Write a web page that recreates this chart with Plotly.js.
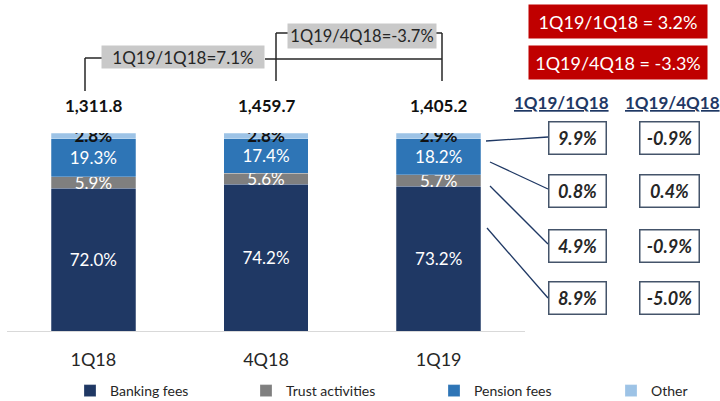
<!DOCTYPE html>
<html>
<head>
<meta charset="utf-8">
<script src="https://cdn.plot.ly/plotly-3.0.1.min.js"></script>
<style>html,body{margin:0;padding:0;background:#fff;}#chart{width:720px;height:401px;}</style>
</head>
<body>
<div id="chart"></div>
<script>
// ---- data ----
var quarters = ['1Q18', '4Q18', '1Q19'];
var bankingFees = [72.0, 74.2, 73.2];
var trustActivities = [5.9, 5.6, 5.7];
var pensionFees = [19.3, 17.4, 18.2];
var other = [2.8, 2.8, 2.9];
var totals = ['1,311.8', '1,459.7', '1,405.2'];
var totalChangeLabels = ['1Q19/1Q18=7.1%', '1Q19/4Q18=-3.7%'];
var redBoxLabels = ['1Q19/1Q18 = 3.2%', '1Q19/4Q18 = -3.3%'];
var changeHeaders = ['1Q19/1Q18', '1Q19/4Q18'];
// rows: Other, Pension fees, Trust activities, Banking fees
var yoyChange = ['9.9%', '0.8%', '4.9%', '8.9%'];
var qoqChange = ['-0.9%', '0.4%', '-0.9%', '-5.0%'];

// ---- layout helpers (pixel -> paper) ----
var W = 720, H = 401;
var M = {l: 7, r: 195, t: 133, b: 70, autoexpand: false};
var PW = W - M.l - M.r, PH = H - M.t - M.b;
function px(x) { return (x - M.l) / PW; }
function py(y) { return (H - M.b - y) / PH; }

var FONT = 'Lato, "Open Sans", sans-serif';
function pct(arr) { return arr.map(function (v) { return v.toFixed(1) + '%'; }); }

function barTrace(name, vals, color, txtColor, weight, legendId) {
  return {
    type: 'bar', name: name, x: quarters, y: vals, legend: legendId,
    marker: {color: color, line: {color: 'rgba(255,255,255,0.5)', width: 0.5}},
    text: pct(vals), textposition: 'inside', insidetextanchor: 'middle',
    constraintext: 'none',
    textfont: {family: FONT, size: 17, color: txtColor, weight: weight},
    hoverinfo: 'skip'
  };
}

var data = [
  barTrace('Banking fees', bankingFees, '#1f3864', '#ffffff', 'normal', 'legend'),
  barTrace('Trust activities', trustActivities, '#7f7f7f', '#ffffff', 'normal', 'legend2'),
  barTrace('Pension fees', pensionFees, '#2e75b6', '#ffffff', 'normal', 'legend3'),
  barTrace('Other', other, '#9dc3e6', '#111111', 'bold', 'legend4')
];

var annotations = [];
var shapes = [];

function note(x, y, text, extra) {
  var a = {xref: 'paper', yref: 'paper', x: px(x), y: py(y), text: text, showarrow: false,
    xanchor: 'center', yanchor: 'middle'};
  for (var k in extra) a[k] = extra[k];
  annotations.push(a);
}

// totals above bars
quarters.forEach(function (q, i) {
  annotations.push({xref: 'x', yref: 'paper', x: q, y: py(106), text: '<b>' + totals[i] + '</b>',
    showarrow: false, font: {family: FONT, size: 17, color: '#111111'}, xanchor: 'center', yanchor: 'middle'});
});

// grey change boxes
note(183, 57, totalChangeLabels[0], {bgcolor: '#c9c9c9', width: 160, height: 20,
  font: {family: FONT, size: 17, color: '#262626'}});
note(362, 36.5, totalChangeLabels[1], {bgcolor: '#c9c9c9', width: 146, height: 22,
  font: {family: FONT, size: 16.5, color: '#262626'}});

// bracket lines
var lineStyle = {color: '#262626', width: 1.5};
function seg(x0, y0, x1, y1, st) {
  shapes.push({type: 'line', xref: 'paper', yref: 'paper', x0: px(x0), y0: py(y0), x1: px(x1), y1: py(y1), line: st});
}
seg(85, 91, 85, 58, lineStyle); seg(85, 58, 102, 58, lineStyle);
seg(265, 59, 442, 59, lineStyle);
seg(276, 81, 276, 33, lineStyle); seg(276, 33, 288, 33, lineStyle);
seg(436, 33, 442, 33, lineStyle); seg(442, 33, 442, 81, lineStyle);

// red boxes
note(618, 21.5, redBoxLabels[0], {bgcolor: '#c00000', width: 176, height: 31,
  font: {family: FONT, size: 18, color: '#ffffff'}});
note(618, 62.5, redBoxLabels[1], {bgcolor: '#c00000', width: 176, height: 31,
  font: {family: FONT, size: 18, color: '#ffffff'}});

// headers
note(561.5, 103, '<u><b>' + changeHeaders[0] + '</b></u>', {font: {family: FONT, size: 17, color: '#1f3864'}});
note(672, 103, '<u><b>' + changeHeaders[1] + '</b></u>', {font: {family: FONT, size: 17, color: '#1f3864'}});

// change boxes
var rowY = [137.5, 191, 245.5, 297.5];
rowY.forEach(function (y, i) {
  note(577, y, '<b><i>' + yoyChange[i] + '</i></b>', {bgcolor: '#ffffff', bordercolor: '#44546a',
    borderwidth: 1.5, width: 54, height: 29, font: {family: FONT, size: 18, color: '#262626'}});
  note(669, y, '<b><i>' + qoqChange[i] + '</i></b>', {bgcolor: '#ffffff', bordercolor: '#44546a',
    borderwidth: 1.5, width: 56, height: 29, font: {family: FONT, size: 18, color: '#262626'}});
});

// connector lines
var conn = {color: '#1f3864', width: 1.3};
seg(486, 141, 548, 137, conn);
seg(490, 162, 548, 189, conn);
seg(490, 186, 548, 244, conn);
seg(487, 228, 548, 298, conn);

function legendAt(left) {
  return {orientation: 'h', xref: 'container', yref: 'container', x: left / W, y: (H - 391) / H,
    xanchor: 'left', yanchor: 'middle', bgcolor: 'rgba(0,0,0,0)',
    font: {family: FONT, size: 14, color: '#262626'}};
}

var layout = {
  width: W, height: H,
  margin: M,
  paper_bgcolor: '#ffffff', plot_bgcolor: '#ffffff',
  barmode: 'stack', bargap: 0.51,
  font: {family: FONT, color: '#262626'},
  showlegend: true,
  legend: legendAt(70),
  legend2: legendAt(246),
  legend3: legendAt(434),
  legend4: legendAt(611),
  xaxis: {type: 'category', showline: true, linecolor: '#d9d9d9', linewidth: 1, ticks: '',
    tickfont: {family: FONT, size: 18, color: '#262626'}, ticklabelstandoff: 12,
    showgrid: false, zeroline: false, fixedrange: true},
  yaxis: {range: [0, 100], visible: false, fixedrange: true},
  annotations: annotations,
  shapes: shapes
};

Plotly.newPlot('chart', data, layout, {displayModeBar: false, staticPlot: true});
</script>
</body>
</html>
